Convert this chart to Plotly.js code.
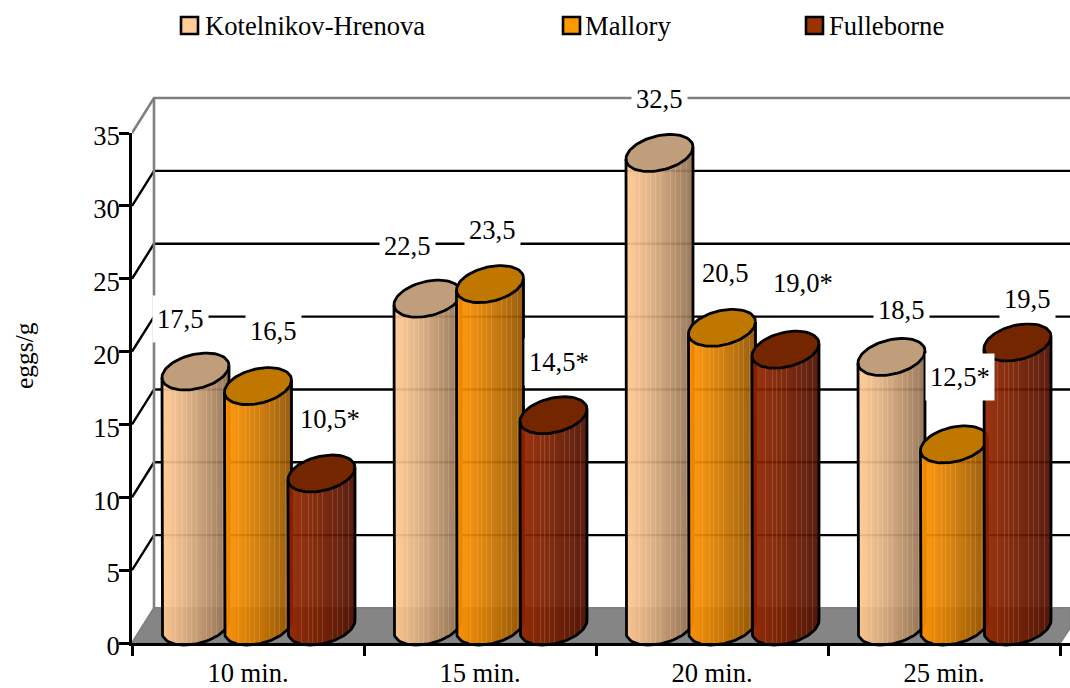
<!DOCTYPE html>
<html>
<head>
<meta charset="utf-8">
<script src="https://cdn.plot.ly/plotly-3.0.1.min.js"></script>
<style>html,body{margin:0;padding:0;background:#fff}#chart{width:1070px;height:688px}</style>
</head>
<body>
<div id="chart"></div>
<script>
// Egg counts per gram by centrifugation time, for three flotation methods.
const times = ['10 min.', '15 min.', '20 min.', '25 min.'];
const seriesNames = ['Kotelnikov-Hrenova', 'Mallory', 'Fulleborne'];
const kotelnikov = [17.5, 22.5, 32.5, 18.5];
const mallory = [16.5, 23.5, 20.5, 12.5];
const fulleborne = [10.5, 14.5, 19.0, 19.5];
// Asterisks marking significant differences on the value labels.
const kotelnikovStars = ['', '', '', ''];
const malloryStars = ['', '', '', '*'];
const fulleborneStars = ['*', '*', '*', ''];
const yTicks = [0, 5, 10, 15, 20, 25, 30, 35];

const seriesValues = [kotelnikov, mallory, fulleborne];
const seriesStars = [kotelnikovStars, malloryStars, fulleborneStars];

// Styling of each series: left (lit) and right (shaded) body tones, cap and legend fill.
const seriesLit = [[255, 204, 153], [255, 153, 0], [153, 51, 0]];
const seriesShade = [[150, 120, 92], [150, 92, 0], [88, 30, 0]];
const capColor = ['#c19e7b', '#bf7700', '#732600'];
const legendFill = ['#ffcc99', '#ff9900', '#993300'];
// Columns of a cylinder body that catch a brighter highlight, as fractions of its width.
const highlightAt = [0.2, 0.3, 0.36, 0.44, 0.51, 0.67, 0.74, 0.82, 0.9];
const bodyAlpha = 0.93;

// Pixel geometry of the oblique projection.
const W = 1070, H = 688;
const plotLeft = 132, plotRight = 1070, slotPx = 232;
const frontZero = 643, backZero = 608, midZero = 626.5, unitPx = 14.57;
const wallDx = 22;
const pxX = d => d / slotPx;
const pxY = d => d / unitPx;
const backY = v => v + pxY(midZero - backZero);
const frontY = v => v - pxY(frontZero - midZero);
const backX = pxX(wallDx) - 0.5;
const frontX = -0.5;
const xMax = -0.5 + (plotRight - plotLeft) / slotPx;

// Cylinder proportions.
const barShift = [-62.5, 0, 63.5];
const groupShift = 10;
const rx = 33.5, tilt = 6, ry = 17.5;
const bodyWidth = 67;

const centre = (i, s) => i + pxX(groupShift + barShift[s]);
// A point on a cylinder rim; cosT runs from -1 at the left to 1 at the right.
const rimY = (base, cosT, side) => base + pxY(tilt) * cosT + side * pxY(ry) * Math.sqrt(Math.max(0, 1 - cosT * cosT));
// Pixel columns keep neighbouring body strips flush with each other.
const columnEdge = (i, s, n) => {
  const left = Math.round(plotLeft + slotPx * (i + 0.5) + groupShift + barShift[s] - rx);
  return (left + n - plotLeft) / slotPx - 0.5;
};
// Tone to paint so that the translucent body still reads as the wanted colour over white.
const throughWhite = a => Math.max(0, Math.round((a - (1 - bodyAlpha) * 255) / bodyAlpha));

const traces = [];

// Floor of the chart box.
traces.push({
  x: [frontX, backX, xMax, xMax, 3.5, frontX],
  y: [frontY(0), backY(0), backY(0), frontY(0) + pxY(15), frontY(0), frontY(0)],
  mode: 'lines', fill: 'toself', fillcolor: '#858585', line: {color: '#808080', width: 2},
  hoverinfo: 'skip', showlegend: false
});

// Gridlines across the back wall and down the side wall.
const gridX = [], gridY = [];
yTicks.filter(v => v > 0 && v < 35).forEach(v => {
  gridX.push(frontX, backX, xMax, null);
  gridY.push(frontY(v), backY(v), backY(v), null);
});
traces.push({x: gridX, y: gridY, mode: 'lines', line: {color: '#000', width: 2.4}, hoverinfo: 'skip', showlegend: false});

// Grey outline of the wall.
traces.push({
  x: [frontX, backX, xMax, null, backX, backX],
  y: [frontY(35), backY(35), backY(35), null, backY(35), backY(0)],
  mode: 'lines', line: {color: '#808080', width: 2.6}, hoverinfo: 'skip', showlegend: false
});

// Cylinders: one-pixel body columns, then a cap and an outline for each series.
seriesValues.forEach((values, s) => {
  for (let k = 0; k < bodyWidth; k++) {
    const f0 = k / bodyWidth, f1 = (k + 1) / bodyWidth;
    const mix = Math.pow((f0 + f1) / 2, 1.2);
    let c = seriesLit[s].map((a, n) => a + (seriesShade[s][n] - a) * mix);
    if (highlightAt.some(h => Math.abs(h - (f0 + f1) / 2) < 0.5 / bodyWidth)) {
      c = c.map(a => a + (255 - a) * 0.15);
    }
    c = c.map(throughWhite);
    const xs = [], ys = [];
    values.forEach((v, i) => {
      const l = columnEdge(i, s, k), r = columnEdge(i, s, k + 1);
      const c0 = 2 * f0 - 1, c1 = 2 * f1 - 1;
      xs.push(l, r, r, l, l, null);
      ys.push(rimY(v, c0, -1), rimY(v, c1, -1), rimY(0, c1, -1), rimY(0, c0, -1), rimY(v, c0, -1), null);
    });
    traces.push({
      x: xs, y: ys, mode: 'none', fill: 'toself',
      fillcolor: `rgba(${c[0]},${c[1]},${c[2]},${bodyAlpha})`,
      hoverinfo: 'skip', showlegend: false
    });
  }
  const capX = [], capY = [], edgeX = [], edgeY = [];
  values.forEach((v, i) => {
    const cx = centre(i, s);
    for (let d = 0; d <= 72; d++) {
      const t = d * Math.PI / 36;
      const px = cx + pxX(rx) * Math.cos(t);
      const py = v + pxY(tilt) * Math.cos(t) + pxY(ry) * Math.sin(t);
      capX.push(px); capY.push(py);
      edgeX.push(px); edgeY.push(py);
    }
    capX.push(null); capY.push(null);
    edgeX.push(null); edgeY.push(null);
    // Side walls joined by the front arc of the bottom rim.
    edgeX.push(cx - pxX(rx)); edgeY.push(v - pxY(tilt));
    for (let d = 36; d >= 0; d--) {
      const t = d * Math.PI / 36;
      edgeX.push(cx + pxX(rx) * Math.cos(t));
      edgeY.push(pxY(tilt) * Math.cos(t) - pxY(ry) * Math.sin(t));
    }
    edgeX.push(cx + pxX(rx), null); edgeY.push(v + pxY(tilt), null);
  });
  traces.push({
    x: capX, y: capY, mode: 'none', fill: 'toself', fillcolor: capColor[s],
    hoverinfo: 'skip', showlegend: false
  });
  traces.push({
    x: edgeX, y: edgeY, mode: 'lines', line: {color: '#000', width: 2.8},
    name: seriesNames[s], showlegend: false,
    hovertemplate: seriesNames[s] + '<extra></extra>'
  });
});

// Carries the category ticks of the visible axes.
traces.push({
  x: times, y: times.map(() => 0), xaxis: 'x2', yaxis: 'y2',
  mode: 'lines', line: {width: 0}, hoverinfo: 'skip', showlegend: false
});

const serif = '"Liberation Serif", "Times New Roman", serif';
const textFont = {family: serif, size: 26.6, color: '#000'};

// Value labels: how far each one sits from its cylinder, in pixels.
const labelShiftX = [[-15, -20, 0, 10], [15, 2, 3, 6], [8, 5, 17, 10]];
const labelLift = [[53, 53, 54, 47], [55, 54, 55, 67], [55, 53, 67, 43]];

const annotations = [];
seriesValues.forEach((values, s) => {
  values.forEach((v, i) => {
    annotations.push({
      xref: 'x', yref: 'y', x: centre(i, s), y: v,
      xshift: labelShiftX[s][i], yshift: labelLift[s][i],
      text: v.toFixed(1).replace('.', ',') + seriesStars[s][i],
      showarrow: false, font: textFont, bgcolor: '#fff', borderpad: 4, height: 38, valign: 'middle'
    });
  });
});

annotations.push({
  xref: 'paper', yref: 'paper', x: 24 / W, y: 1 - 355 / H, xanchor: 'center', yanchor: 'middle',
  text: 'eggs/g', textangle: -90,
  showarrow: false, font: {family: serif, size: 25.5, color: '#000'}
});

// Legend row.
const legendSwatchX = [180, 562, 805];
const legendTextX = [203, 583, 827];
const shapes = [];
seriesNames.forEach((name, s) => {
  shapes.push({
    type: 'rect', xref: 'paper', yref: 'paper',
    x0: (legendSwatchX[s] + 1) / W, x1: (legendSwatchX[s] + 18) / W,
    y0: 1 - 34 / H, y1: 1 - 17 / H,
    fillcolor: legendFill[s], line: {color: '#000', width: 2.6}
  });
  annotations.push({
    xref: 'paper', yref: 'paper', x: legendTextX[s] / W, y: 1 - 26 / H, xanchor: 'left', yanchor: 'middle',
    text: name, showarrow: false, font: textFont
  });
});

const layout = {
  width: W, height: H,
  margin: {l: 0, r: 0, t: 0, b: 0},
  paper_bgcolor: '#fff', plot_bgcolor: 'rgba(0,0,0,0)',
  showlegend: false,
  // Drawing axes, in category slots and egg counts with zero at the cylinder bases.
  xaxis: {domain: [plotLeft / W, 1], range: [-0.5, xMax], visible: false, fixedrange: true},
  yaxis: {domain: [0, 1], range: [(midZero - H) / unitPx, midZero / unitPx], visible: false, fixedrange: true},
  // Visible axes at the front of the box.
  xaxis2: {
    domain: [plotLeft / W, 1], anchor: 'y2', type: 'category', categoryorder: 'array', categoryarray: times,
    range: [-0.5, xMax], tickson: 'boundaries', ticks: 'outside', ticklen: 10, tickwidth: 2.6, tickcolor: '#000',
    showline: true, linecolor: '#000', linewidth: 2.6, showgrid: false, zeroline: false, ticklabelstandoff: 4,
    tickfont: textFont, automargin: false, fixedrange: true
  },
  yaxis2: {
    domain: [(H - frontZero) / H, (H - 133) / H], anchor: 'x2', range: [0, 35],
    tickmode: 'array', tickvals: yTicks, ticks: 'outside', ticklen: 10, tickwidth: 2.6, tickcolor: '#000',
    showline: true, linecolor: '#000', linewidth: 2.6, showgrid: false, zeroline: false,
    ticklabelstandoff: -6, ticklabelshift: 3,
    tickfont: textFont, automargin: false, fixedrange: true
  },
  annotations, shapes
};

Plotly.newPlot('chart', traces, layout, {displayModeBar: false, responsive: false});
</script>
</body>
</html>
